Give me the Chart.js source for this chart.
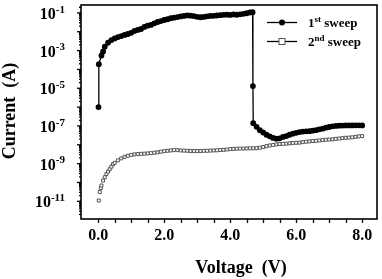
<!DOCTYPE html>
<html>
<head>
<meta charset="utf-8">
<script src="https://cdn.jsdelivr.net/npm/chart.js@4"></script>
<style>
  html, body { margin: 0; padding: 0; background: #fff; }
  #wrap { width: 382px; height: 279px; position: relative; }
</style>
</head>
<body>
<div id="wrap"><canvas id="chart"></canvas></div>
<script>
// 1st sweep (filled circles), voltage in V, current in A
const sweep1Voltage = [
  0.01, 0.02, 0.10, 0.15, 0.20, 0.30, 0.40, 0.50, 0.60, 0.70, 0.80, 0.90, 1.00,
  1.10, 1.20, 1.30, 1.40, 1.50, 1.60, 1.70, 1.80, 1.90, 2.00, 2.10, 2.20, 2.30,
  2.40, 2.50, 2.60, 2.70, 2.80, 2.90, 3.00, 3.10, 3.20, 3.30, 3.40, 3.50, 3.60,
  3.70, 3.80, 3.90, 4.00, 4.10, 4.20, 4.30, 4.40, 4.50, 4.60, 4.68, 4.69, 4.70,
  4.80, 4.90, 5.00, 5.10, 5.20, 5.30, 5.40, 5.50, 5.60, 5.70, 5.80, 5.90, 6.00,
  6.10, 6.20, 6.30, 6.40, 6.50, 6.60, 6.70, 6.80, 6.90, 7.00, 7.10, 7.20, 7.30,
  7.40, 7.50, 7.60, 7.70, 7.80, 7.90, 8.00
];
const sweep1Current = [
  1.0e-6, 1.9e-4, 5.5e-4, 9.0e-4, 1.6e-3, 2.6e-3, 3.6e-3, 4.4e-3, 5.2e-3, 5.9e-3, 6.8e-3, 7.6e-3, 8.8e-3,
  1.1e-2, 1.25e-2, 1.4e-2, 1.8e-2, 2.1e-2, 2.3e-2, 2.8e-2, 3.3e-2, 3.7e-2, 4.2e-2, 4.6e-2, 5.2e-2, 5.6e-2,
  6.0e-2, 6.5e-2, 6.9e-2, 7.4e-2, 7.1e-2, 6.8e-2, 6.2e-2, 5.9e-2, 6.1e-2, 6.6e-2, 6.9e-2, 7.0e-2, 7.3e-2,
  7.6e-2, 7.9e-2, 8.1e-2, 7.8e-2, 8.3e-2, 8.0e-2, 8.4e-2, 8.9e-2, 9.6e-2, 1.05e-1, 1.1e-1, 1.3e-5, 1.4e-7,
  9.0e-8, 6.0e-8, 4.5e-8, 3.4e-8, 2.8e-8, 2.3e-8, 2.1e-8, 2.2e-8, 2.6e-8, 2.9e-8, 3.4e-8, 3.9e-8, 4.3e-8,
  4.7e-8, 5.0e-8, 5.2e-8, 5.3e-8, 5.6e-8, 6.0e-8, 6.6e-8, 7.2e-8, 8.1e-8, 8.8e-8, 9.5e-8, 1.0e-7, 1.03e-7,
  1.05e-7, 1.07e-7, 1.07e-7, 1.07e-7, 1.08e-7, 1.08e-7, 1.07e-7
];

// 2nd sweep (open squares)
const sweep2Voltage = [
  0.02, 0.05, 0.08, 0.10, 0.15, 0.20, 0.25, 0.30, 0.35, 0.40, 0.45, 0.50, 0.60,
  0.70, 0.80, 0.90, 1.00, 1.10, 1.20, 1.30, 1.40, 1.50, 1.60, 1.70, 1.80, 1.90,
  2.00, 2.10, 2.20, 2.30, 2.40, 2.50, 2.60, 2.70, 2.80, 2.90, 3.00, 3.10, 3.20,
  3.30, 3.40, 3.50, 3.60, 3.70, 3.80, 3.90, 4.00, 4.10, 4.20, 4.30, 4.40, 4.50,
  4.60, 4.70, 4.80, 4.90, 5.00, 5.10, 5.20, 5.30, 5.40, 5.50, 5.60, 5.70, 5.80,
  5.90, 6.00, 6.10, 6.20, 6.30, 6.40, 6.50, 6.60, 6.70, 6.80, 6.90, 7.00, 7.10,
  7.20, 7.30, 7.40, 7.50, 7.60, 7.70, 7.80, 7.90, 8.00
];
const sweep2Current = [
  1.1e-11, 3.1e-11, 5.0e-11, 6.9e-11, 1.26e-10, 1.9e-10, 2.8e-10, 3.8e-10, 5.1e-10, 6.9e-10, 9.3e-10, 1.1e-9, 1.5e-9,
  1.9e-9, 2.3e-9, 2.6e-9, 2.9e-9, 3.1e-9, 3.2e-9, 3.3e-9, 3.4e-9, 3.5e-9, 3.6e-9, 3.8e-9, 4.0e-9, 4.3e-9,
  4.6e-9, 4.8e-9, 5.0e-9, 5.2e-9, 5.2e-9, 5.0e-9, 4.9e-9, 4.8e-9, 4.7e-9, 4.6e-9, 4.7e-9, 4.7e-9, 4.8e-9,
  4.8e-9, 4.9e-9, 5.0e-9, 5.1e-9, 5.3e-9, 5.4e-9, 5.6e-9, 5.9e-9, 6.1e-9, 6.2e-9, 6.3e-9, 6.3e-9, 6.4e-9,
  6.5e-9, 6.5e-9, 6.6e-9, 7.0e-9, 7.6e-9, 8.5e-9, 9.2e-9, 9.8e-9, 1.05e-8, 1.1e-8, 1.12e-8, 1.15e-8, 1.2e-8,
  1.25e-8, 1.28e-8, 1.3e-8, 1.38e-8, 1.45e-8, 1.52e-8, 1.58e-8, 1.62e-8, 1.7e-8, 1.78e-8, 1.85e-8, 1.9e-8, 1.95e-8,
  2.05e-8, 2.15e-8, 2.25e-8, 2.35e-8, 2.4e-8, 2.5e-8, 2.65e-8, 2.8e-8, 2.9e-8
];

const xTickValues = [0, 2, 4, 6, 8];
const xTickLabels = ['0.0', '2.0', '4.0', '6.0', '8.0'];
const yTickExponents = [-1, -3, -5, -7, -9, -11];
const legendLabels = [['1', 'st', ' sweep'], ['2', 'nd', ' sweep']];

const SERIF = '"Liberation Serif", "Times New Roman", serif';

const toPoints = (xs, ys) => xs.map((x, i) => ({ x: x, y: ys[i] }));

// draws frame, ticks, tick labels, axis titles and legend
const decorPlugin = {
  id: 'decor',
  afterDraw(chart) {
    const ctx = chart.ctx;
    const { left, right, top, bottom } = chart.chartArea;
    const xs = chart.scales.x;
    const ys = chart.scales.y;
    ctx.save();
    ctx.strokeStyle = '#000';
    ctx.fillStyle = '#000';

    // frame
    ctx.lineWidth = 1.6;
    ctx.strokeRect(left, top, right - left, bottom - top);

    // x ticks (every 0.5 V, outward)
    ctx.lineWidth = 1.3;
    for (let v = 0; v <= 8; v += 0.5) {
      const px = Math.round(xs.getPixelForValue(v)) + 0.5;
      ctx.beginPath();
      ctx.moveTo(px, bottom);
      ctx.lineTo(px, bottom + 4);
      ctx.stroke();
    }

    // y ticks: majors at each decade, minors in between
    for (let e = -12; e <= 0; e++) {
      for (let m = 1; m < 10; m++) {
        const val = m * Math.pow(10, e);
        const py = ys.getPixelForValue(val);
        if (py < top - 0.5 || py > bottom + 0.5) continue;
        ctx.beginPath();
        ctx.moveTo(left, py);
        ctx.lineTo(left - (m === 1 ? 4 : 2), py);
        ctx.stroke();
      }
    }

    // x tick labels
    ctx.font = 'bold 16px ' + SERIF;
    ctx.textAlign = 'center';
    ctx.textBaseline = 'middle';
    xTickValues.forEach((v, i) => {
      ctx.fillText(xTickLabels[i], xs.getPixelForValue(v), 236);
    });

    // y tick labels with superscript exponent
    yTickExponents.forEach(e => {
      const py = ys.getPixelForValue(Math.pow(10, e));
      ctx.textAlign = 'left';
      ctx.textBaseline = 'middle';
      ctx.font = 'bold 16px ' + SERIF;
      const baseW = ctx.measureText('10').width;
      ctx.font = 'bold 11px ' + SERIF;
      const expText = '-' + Math.abs(e);
      const expW = ctx.measureText(expText).width;
      const x0 = 65 - baseW - expW;
      ctx.font = 'bold 16px ' + SERIF;
      ctx.fillText('10', x0, py + 2);
      ctx.font = 'bold 11px ' + SERIF;
      ctx.fillText(expText, x0 + baseW, py - 3);
    });

    // axis titles
    ctx.font = 'bold 18px ' + SERIF;
    ctx.textAlign = 'center';
    ctx.textBaseline = 'middle';
    ctx.fillText('Voltage  (V)', 241, 268);
    ctx.save();
    ctx.translate(10, 111);
    ctx.rotate(-Math.PI / 2);
    ctx.fillText('Current  (A)', 0, 0);
    ctx.restore();

    // legend
    const lx0 = 267, lx1 = 297, lmid = 282;
    const rows = [22.5, 41.5];
    rows.forEach((ly, i) => {
      ctx.lineWidth = 1.3;
      ctx.strokeStyle = '#000';
      ctx.beginPath();
      ctx.moveTo(lx0, ly);
      ctx.lineTo(lx1, ly);
      ctx.stroke();
      if (i === 0) {
        ctx.beginPath();
        ctx.arc(lmid, ly, 3, 0, Math.PI * 2);
        ctx.fill();
      } else {
        ctx.fillStyle = '#fff';
        ctx.fillRect(lmid - 3, ly - 3, 6, 6);
        ctx.strokeStyle = '#555';
        ctx.lineWidth = 1;
        ctx.strokeRect(lmid - 3, ly - 3, 6, 6);
        ctx.fillStyle = '#000';
      }
      const [num, sup, rest] = legendLabels[i];
      ctx.textAlign = 'left';
      ctx.textBaseline = 'middle';
      ctx.font = 'bold 13px ' + SERIF;
      let tx = 308;
      ctx.fillText(num, tx, ly + 1);
      tx += ctx.measureText(num).width;
      ctx.font = 'bold 9px ' + SERIF;
      ctx.fillText(sup, tx, ly - 3);
      tx += ctx.measureText(sup).width;
      ctx.font = 'bold 13px ' + SERIF;
      ctx.fillText(rest, tx, ly + 1);
    });

    ctx.restore();
  }
};

new Chart(document.getElementById('chart'), {
  type: 'scatter',
  data: {
    datasets: [
      {
        label: '1st sweep',
        data: toPoints(sweep1Voltage, sweep1Current),
        showLine: true,
        borderColor: '#000',
        borderWidth: 1.3,
        backgroundColor: '#000',
        pointStyle: 'circle',
        pointRadius: 2.9,
        pointBorderWidth: 0,
        pointBackgroundColor: '#000'
      },
      {
        label: '2nd sweep',
        data: toPoints(sweep2Voltage, sweep2Current),
        showLine: false,
        pointStyle: 'rect',
        pointRadius: 2.1,
        pointBorderWidth: 1,
        pointBorderColor: '#555',
        pointBackgroundColor: '#fff'
      }
    ]
  },
  options: {
    responsive: true,
    maintainAspectRatio: false,
    animation: false,
    layout: { padding: { top: 2, right: 4, left: 0, bottom: 0 } },
    plugins: {
      legend: { display: false },
      tooltip: { enabled: false }
    },
    scales: {
      x: {
        type: 'linear',
        min: -0.52,
        max: 8.45,
        grid: { display: false },
        border: { display: false },
        ticks: { display: false },
        afterFit: (scale) => { scale.height = 60; }
      },
      y: {
        type: 'logarithmic',
        min: 1.15e-12,
        max: 0.263,
        grid: { display: false },
        border: { display: false },
        ticks: { display: false },
        afterFit: (scale) => { scale.width = 81; }
      }
    }
  },
  plugins: [decorPlugin]
});
</script>
</body>
</html>
